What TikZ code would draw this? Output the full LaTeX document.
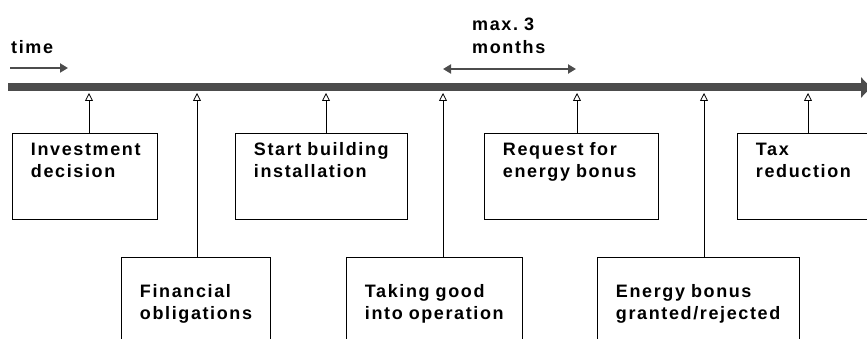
\documentclass[tikz,border=0pt]{standalone}
\usepackage{fontspec}
\setmainfont{Liberation Sans}[LetterSpace=9]
\usetikzlibrary{arrows.meta, positioning}

\begin{document}
\begin{tikzpicture}[
        x=1pt, y=-1pt,
        >={Triangle[length=8pt, width=9pt]},
        caixa/.style={draw=black, line width=0.8pt, anchor=north west, align=left, inner xsep=18.5pt, inner ysep=10pt, font=\fontsize{18}{22}\selectfont\bfseries},
        alta/.style={caixa, text height=12pt, text depth=54pt},
        baixa/.style={caixa, text height=30pt, text depth=60pt},
        rotulo/.style={anchor=base west, align=left, inner sep=0pt, font=\fontsize{18}{23}\selectfont\bfseries},
        seta/.style={line width=0.8pt, -{Triangle[open, length=8pt, width=8pt]}},
        eixo/.style={line width=8pt, black!70, -{Triangle[length=10pt, width=20pt]}},
        prazo/.style={line width=2.5pt, black!70}
    ]
    \clip (0,0) rectangle (867,339);

    % Linha do tempo
    \coordinate (inicio) at (8,87.5);
    \coordinate (fim) at (871,87.5);
    \draw[eixo] (inicio) -- (fim);

    % Rótulos de cima
    \node[rotulo, text width=60pt] (tempo) at (11,54) {time};
    \coordinate (t0) at (10,68);
    \coordinate (t1) at (68,68);
    \draw[prazo, ->] (t0) -- (t1);
    \node[rotulo, text width=90pt] (meses) at (472,31) {max.~3\\months};
    \coordinate (m0) at (443,69);
    \coordinate (m1) at (576,69);
    \draw[prazo, <->] (m0) -- (m1);

    % Caixas de cima
    \node[alta, text width=108pt] (invest) at (12,133) {Investment\\decision};
    \node[alta, text width=135pt] (obra) at (235,133) {Start~building\\installation};
    \node[alta, text width=137pt] (pedido) at (484,133) {Request~for\\energy~bonus};
    \node[alta, text width=140pt] (imposto) at (737,133) {Tax\\reduction};

    % Caixas de baixo
    \node[baixa, text width=112pt] (financas) at (121,257) {Financial\\obligations};
    \node[baixa, text width=139pt] (operacao) at (346,257) {Taking~good\\into~operation};
    \node[baixa, text width=165pt] (bonus) at (597,257) {Energy~bonus\\granted/rejected};

    % Pontos na linha do tempo
    \coordinate (p1) at (89,93);
    \coordinate (p2) at (197,93);
    \coordinate (p3) at (326,93);
    \coordinate (p4) at (443,93);
    \coordinate (p5) at (577,93);
    \coordinate (p6) at (704,93);
    \coordinate (p7) at (808,93);

    % Conexões
    \draw[seta] (p1 |- invest.north) -- (p1);
    \draw[seta] (p2 |- financas.north) -- (p2);
    \draw[seta] (p3 |- obra.north) -- (p3);
    \draw[seta] (p4 |- operacao.north) -- (p4);
    \draw[seta] (p5 |- pedido.north) -- (p5);
    \draw[seta] (p6 |- bonus.north) -- (p6);
    \draw[seta] (p7 |- imposto.north) -- (p7);
\end{tikzpicture}
\end{document}
